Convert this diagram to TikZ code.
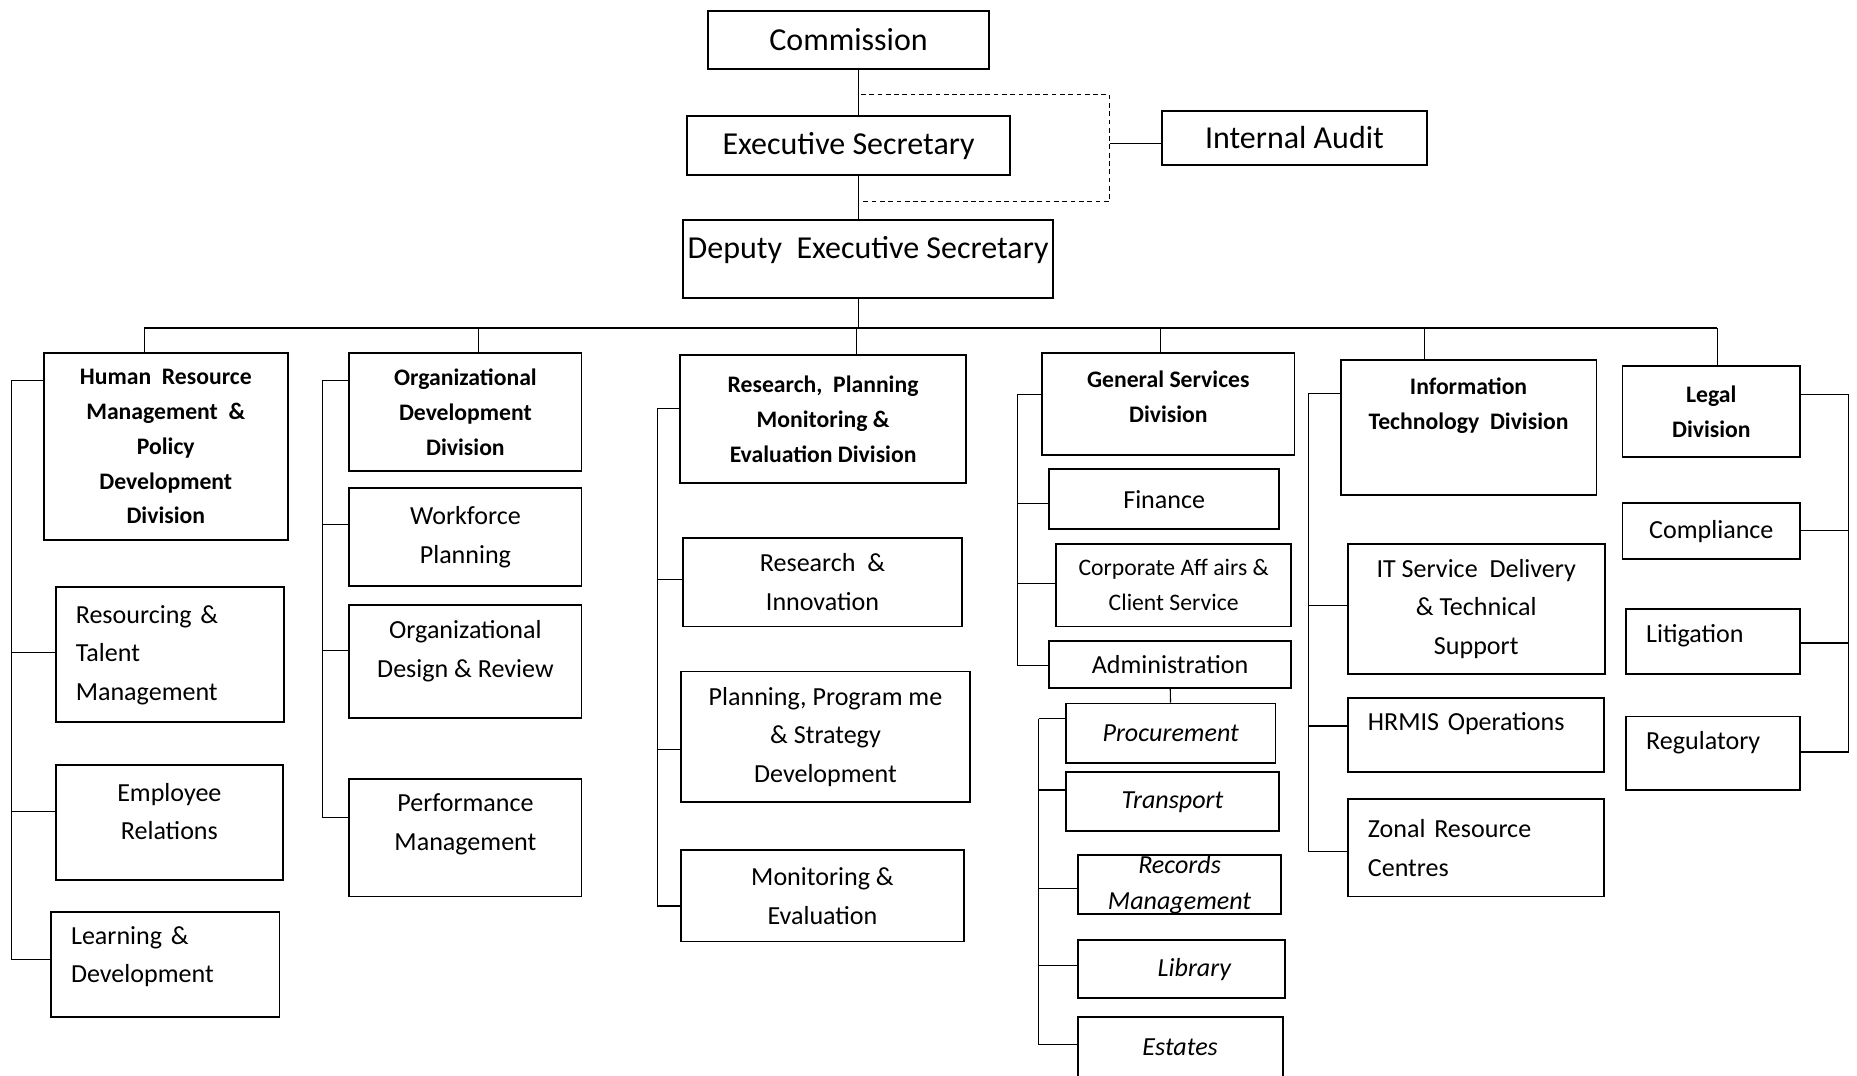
\documentclass[tikz,border=0pt]{standalone}
\usepackage{fontspec}
\setmainfont{Carlito}
\usepackage{tikz}
\usetikzlibrary{calc}

\begin{document}
\begin{tikzpicture}[x=0.5pt, y=-0.5pt,
    box/.style={draw=black, line width=0.8pt, inner sep=0pt, align=center},
    topbox/.style={box, font=\fontsize{13.5}{16}\selectfont},
    divbox/.style={box, font=\bfseries\fontsize{10}{14.75}\selectfont},
    unitbox/.style={box, font=\fontsize{11}{16.25}\selectfont},
    leftbox/.style={unitbox, align=left, inner xsep=8.5pt},
    subbox/.style={box, font=\itshape\fontsize{11}{15}\selectfont},
    wh/.style 2 args={minimum width=#1, minimum height=#2},
    link/.style={line width=0.5pt},
    audit/.style={link, dash pattern=on 2pt off 1.5pt}]
    \useasboundingbox (0,0) rectangle (1568,908);

    % top of the chart
    \node[topbox, wh={118.5pt}{24.5pt}] (com) at (716.5,33.5) {Commission};
    \node[topbox, wh={136.5pt}{25pt}] (es) at (716.5,123) {Executive Secretary};
    \node[topbox, wh={112pt}{22.5pt}] (ia) at (1093,116.5) {Internal Audit};
    \node[topbox, wh={156pt}{33pt}] (des) at (733,219) {Deputy\ \ Executive Secretary\\[-6.3pt]\mbox{}};

    % divisions
    \node[divbox, wh={103pt}{79pt}] (hr) at (140,377) {Human\ \ Resource\\Management\ \ \&\\Policy\\Development\\Division};
    \node[divbox, wh={98pt}{50pt}] (od) at (393,348) {Organizational\\Development\\Division};
    \node[divbox, wh={121pt}{54pt}] (rp) at (695,354) {Research,\ \ Planning\\Monitoring \&\\Evaluation Division};
    \node[divbox, wh={106.5pt}{43pt}] (gs) at (986.5,341) {General Services\\Division\\[-8.75pt]\mbox{}};
    \node[divbox, wh={108pt}{57pt}] (it) at (1240,361) {Information\\Technology\ \ Division\\[5.25pt]\mbox{}};
    \node[divbox, wh={75pt}{38.5pt}] (lg) at (1445,347.5) {Legal\\Division};

    % human resource units
    \node[leftbox, text width=79.5pt, wh={96.5pt}{57pt}] (rtm) at (143.5,553) {Resourcing \&\\Talent\\Management};
    \node[unitbox, wh={96pt}{48.5pt}] (er) at (143,694.5) {Employee\\Relations\\[-6.75pt]\mbox{}};
    \node[leftbox, text width=79.5pt, wh={96.5pt}{44.5pt}] (ld) at (139.5,814.5) {Learning \&\\Development\\[-7.75pt]\mbox{}};

    % organizational development units
    \node[unitbox, wh={98pt}{41.5pt}] (wp) at (393,453.5) {Workforce\\Planning};
    \node[unitbox, wh={98pt}{47.5pt}] (odr) at (393,558.5) {Organizational\\Design \& Review\\[-5.75pt]\mbox{}};
    \node[unitbox, wh={98pt}{49.5pt}] (pm) at (393,707.5) {Performance\\Management\\[-2.75pt]\mbox{}};

    % research units
    \node[unitbox, wh={117.5pt}{37.5pt}] (ri) at (694.5,491.5) {Research\ \ \&\\Innovation};
    \node[unitbox, wh={122pt}{55pt}] (pps) at (697,622) {Planning, Program me\\\& Strategy\\Development};
    \node[unitbox, wh={119.5pt}{38.5pt}] (me) at (694.5,756.5) {Monitoring \&\\Evaluation};

    % general services units
    \node[unitbox, wh={97pt}{25.5pt}] (fin) at (983,421.5) {Finance};
    \node[box, font=\fontsize{10}{14.5}\selectfont, wh={99pt}{35pt}] (caf) at (991,494) {Corporate Aff airs \&\\Client Service};
    \node[unitbox, wh={102pt}{20pt}] (adm) at (988,561) {Administration};
    \node[subbox, wh={88.5pt}{25pt}] (proc) at (988.5,619) {Procurement};
    \node[subbox, wh={90pt}{25pt}] (tra) at (990,677) {Transport};
    \node[subbox, wh={86pt}{25pt}] (rec) at (996,747) {Records\\Management};
    \node[subbox, wh={87.5pt}{24.5pt}] (lib) at (997.5,818.5) {\hspace{11pt}Library};
    \node[subbox, wh={86.5pt}{25pt}] (est) at (996.5,884) {Estates};

    % information technology units
    \node[unitbox, wh={108.5pt}{55pt}] (its) at (1246.5,514) {IT Service\ \ Delivery\\\& Technical\\Support};
    \node[leftbox, text width=91pt, wh={108pt}{31.5pt}] (hrm) at (1246,620.5) {HRMIS Operations\\[-5.25pt]\mbox{}};
    \node[leftbox, text width=91pt, wh={108pt}{41pt}] (zrc) at (1246,716) {Zonal Resource\\Centres};

    % legal units
    \node[unitbox, wh={75pt}{23.5pt}] (cmp) at (1445,448.5) {Compliance};
    \node[leftbox, text width=56.5pt, wh={73.5pt}{27.5pt}] (lit) at (1446.5,541.5) {Litigation\\[-9.25pt]\mbox{}};
    \node[leftbox, text width=56.5pt, wh={73.5pt}{31pt}] (reg) at (1446.5,636) {Regulatory\\[-5.75pt]\mbox{}};

    % trunk and internal audit
    \coordinate (trunk) at (725,0);
    \coordinate (auT) at (727,80);
    \coordinate (auR) at (937,121);
    \coordinate (auB) at (727,170);
    \draw[link] (com.south -| trunk) -- (es.north -| trunk);
    \draw[link] (es.south -| trunk) -- (des.north -| trunk);
    \draw[audit] (auT) -| (auR) |- (auB);
    \draw[link] (auR) -- (ia.west |- auR);

    % bus to the divisions
    \coordinate (busL) at (122,277);
    \coordinate (busR) at (1450,277);
    \draw[link] (des.south -| trunk) -- (trunk |- busL);
    \draw[link] (busL) -- (busR);
    \foreach \n/\x in {hr/122, od/404, rp/723, gs/980, it/1203, lg/1450}
        \draw[link] (busL -| \x,0) -- (\n.north -| \x,0);

    % spines
    \coordinate (hrS) at (10,321);
    \draw[link] (hrS) -- (hr.west |- hrS);
    \foreach \n/\y in {rtm/551, er/685, ld/810}
        \draw[link] (hrS) |- (\n.west |- 0,\y);
    \coordinate (odS) at (272,321);
    \draw[link] (odS) -- (od.west |- odS);
    \foreach \n/\y in {wp/443, odr/549, pm/690}
        \draw[link] (odS) |- (\n.west |- 0,\y);
    \coordinate (rpS) at (555,345);
    \draw[link] (rpS) -- (rp.west |- rpS);
    \foreach \n/\y in {ri/489, pps/633, me/765}
        \draw[link] (rpS) |- (\n.west |- 0,\y);
    \coordinate (gsS) at (859,333);
    \draw[link] (gsS) -- (gs.west |- gsS);
    \foreach \n/\y in {fin/425, caf/493, adm/562}
        \draw[link] (gsS) |- (\n.west |- 0,\y);
    \draw[link] (adm) -- (proc);
    \coordinate (admS) at (877,607);
    \draw[link] (admS) -- (proc.west |- admS);
    \foreach \n/\y in {tra/667, rec/750, lib/815, est/882}
        \draw[link] (admS) |- (\n.west |- 0,\y);
    \coordinate (itS) at (1105,332);
    \draw[link] (itS) -- (it.west |- itS);
    \foreach \n/\y in {its/511, hrm/613, zrc/719}
        \draw[link] (itS) |- (\n.west |- 0,\y);
    \coordinate (lgS) at (1561,333);
    \draw[link] (lgS) -- (lg.east |- lgS);
    \foreach \n/\y in {cmp/448, lit/543, reg/635}
        \draw[link] (lgS) |- (\n.east |- 0,\y);
\end{tikzpicture}
\end{document}
